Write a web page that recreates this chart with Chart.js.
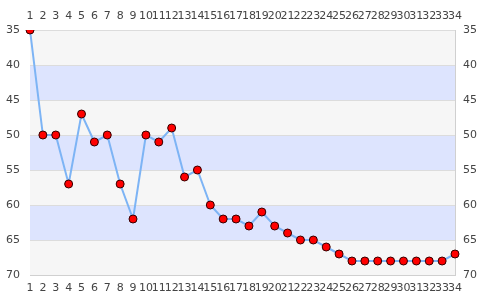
<!DOCTYPE html>
<html>
<head>
<meta charset="utf-8">
<script src="https://cdn.jsdelivr.net/npm/chart.js@4/dist/chart.umd.min.js"></script>
<style>
  html, body { margin: 0; padding: 0; background: #fff; }
  #wrap { width: 485px; height: 300px; }
</style>
</head>
<body>
<div id="wrap"><canvas id="myChart"></canvas></div>
<script>
var labels = ['1','2','3','4','5','6','7','8','9','10','11','12','13','14','15','16','17','18','19','20','21','22','23','24','25','26','27','28','29','30','31','32','33','34'];
var values = [35,50,50,57,47,51,50,57,62,50,51,49,56,55,60,62,62,63,61,63,64,65,65,66,67,68,68,68,68,68,68,68,68,67];
var yMin = 35;
var yMax = 70;
var yStep = 5;

// alternating horizontal bands behind the plot
var bands = {
    id: 'bands',
    beforeDatasetsDraw: function(chart) {
        var c = chart.ctx, a = chart.chartArea, y = chart.scales.y;
        c.save();
        for (var v = yMin, i = 0; v < yMax; v += yStep, i++) {
            var t = y.getPixelForValue(v), b = y.getPixelForValue(v + yStep);
            c.fillStyle = i % 2 ? '#dde4fe' : '#f6f6f6';
            c.fillRect(a.left, t, a.right - a.left, b - t);
            c.strokeStyle = '#dcdcdc';
            c.lineWidth = 1;
            c.beginPath();
            c.moveTo(a.left, Math.round(t) + 0.5);
            c.lineTo(a.right, Math.round(t) + 0.5);
            c.stroke();
        }
        c.restore();
    }
};

var tickFont = { family: 'DejaVu Sans', size: 11 };

var ctx = document.getElementById('myChart').getContext('2d');
var myChart = new Chart(ctx, {
    type: 'line',
    data: {
        labels: labels,
        datasets: [{
            data: values,
            borderColor: '#7db4f5',
            borderWidth: 2,
            backgroundColor: '#ff0000',
            pointBackgroundColor: '#ff0000',
            pointBorderColor: '#330000',
            pointBorderWidth: 1,
            pointRadius: 4,
            tension: 0,
            fill: false
        }]
    },
    options: {
        responsive: true,
        maintainAspectRatio: false,
        animation: false,
        layout: { padding: { left: 0, right: 0, top: 0, bottom: 0 } },
        plugins: {
            legend: { display: false },
            tooltip: { enabled: false }
        },
        scales: {
            x: {
                position: 'bottom',
                offset: false,
                grid: { display: false, drawTicks: false },
                border: { color: '#d0d0d0' },
                ticks: { color: '#444', font: tickFont, maxRotation: 0, autoSkip: false, padding: 7 },
                afterFit: function(s) { s.height = 25; }
            },
            x2: {
                position: 'top',
                type: 'category',
                labels: labels,
                offset: false,
                grid: { display: false, drawTicks: false },
                border: { display: false },
                ticks: { color: '#444', font: tickFont, maxRotation: 0, autoSkip: false, padding: 7 },
                afterFit: function(s) { s.height = 30; }
            },
            y: {
                position: 'left',
                reverse: true,
                min: yMin,
                max: yMax,
                grid: { display: false, drawTicks: false },
                border: { color: '#d0d0d0' },
                ticks: { stepSize: yStep, color: '#444', font: tickFont, padding: 10 },
                afterFit: function(s) { s.width = 30; }
            },
            y2: {
                position: 'right',
                reverse: true,
                min: yMin,
                max: yMax,
                grid: { display: false, drawTicks: false },
                border: { color: '#d0d0d0' },
                ticks: { stepSize: yStep, color: '#444', font: tickFont, padding: 8 },
                afterFit: function(s) { s.width = 30; }
            }
        }
    },
    plugins: [bands]
});
</script>
</body>
</html>
